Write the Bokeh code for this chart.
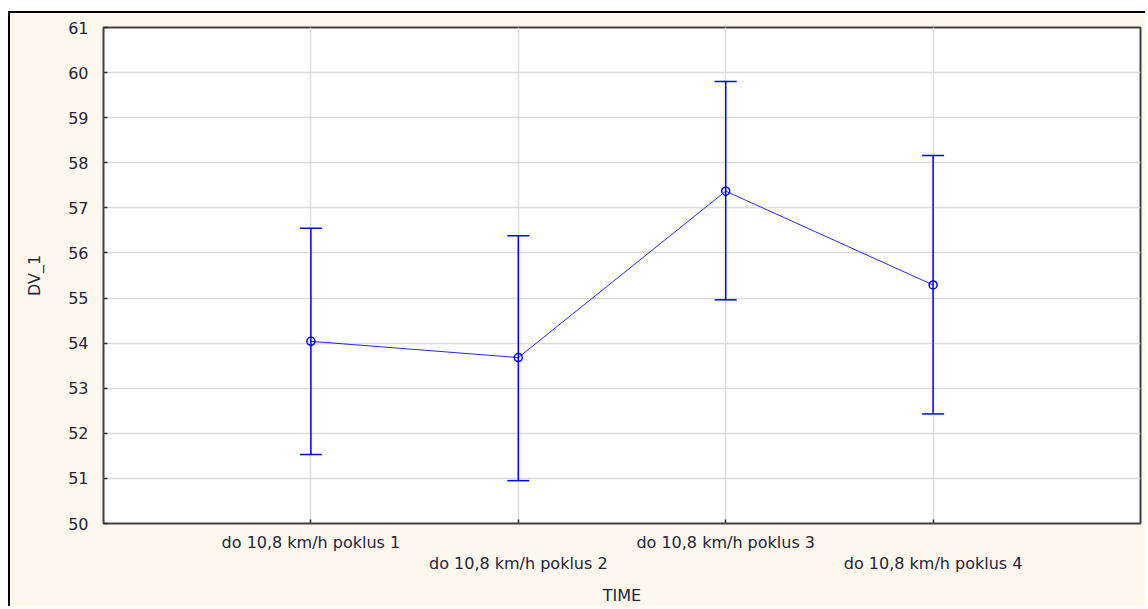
from bokeh.plotting import figure
from bokeh.models import (ColumnDataSource, FixedTicker, Whisker, TeeHead, Range1d)
from bokeh.embed import file_html
from bokeh.resources import INLINE

categories = ["do 10,8 km/h poklus 1", "do 10,8 km/h poklus 2",
              "do 10,8 km/h poklus 3", "do 10,8 km/h poklus 4"]
positions = [1, 2, 3, 4]
means = [54.04, 53.68, 57.37, 55.29]
upper = [56.55, 56.38, 59.80, 58.16]
lower = [51.53, 50.95, 54.96, 52.43]
y_ticks = list(range(50, 62))

FONT = "DejaVu Sans"
TXT = "#24243c"
BLUE = "#0000ff"

p = figure(width=1137, height=595,
           x_range=Range1d(0, 5), y_range=Range1d(50, 61),
           output_backend="svg", toolbar_location=None,
           min_border_left=93, min_border_right=7,
           min_border_top=14, min_border_bottom=84,
           background_fill_color="white", border_fill_color="#fdf8ed",
           outline_line_color="#404040", outline_line_width=2,
           styles={"border-left": "2px solid #000", "border-top": "2px solid #000",
                   "margin-top": "11px", "margin-left": "8px"})

# x axis
xa = p.xaxis[0]
xa.ticker = FixedTicker(ticks=positions)
xa.major_label_overrides = {pos: ("\n" + c if i % 2 else c)
                            for i, (pos, c) in enumerate(zip(positions, categories))}
xa.axis_label = "TIME"

# y axis
ya = p.yaxis[0]
ya.ticker = FixedTicker(ticks=y_ticks)
ya.axis_label = "DV_1"

for ax in (xa, ya):
    ax.axis_line_color = None
    ax.major_tick_in = 4
    ax.major_tick_out = 0
    ax.major_tick_line_color = "#303030"
    ax.major_tick_line_width = 1.5
    ax.minor_tick_line_color = None
    ax.major_label_text_font = FONT
    ax.major_label_text_font_size = "16px"
    ax.major_label_text_color = TXT
    ax.axis_label_text_font = FONT
    ax.axis_label_text_font_size = "16px"
    ax.axis_label_text_font_style = "normal"
    ax.axis_label_text_color = TXT

xa.major_label_text_line_height = 1.15
xa.major_label_standoff = 9
xa.axis_label_standoff = 10
ya.major_label_standoff = 15
ya.axis_label_standoff = 21

p.xgrid.grid_line_color = "#dcdcdc"
p.xgrid.grid_line_width = 1.5
p.ygrid.grid_line_color = "#dcdcdc"
p.ygrid.grid_line_width = 1.5

src = ColumnDataSource(dict(x=positions, m=means, up=upper, lo=lower))
p.line("x", "m", source=src, line_color=BLUE, line_width=1, line_alpha=0.85)
w = Whisker(source=src, base="x", upper="up", lower="lo",
            line_color=BLUE, line_width=1.5,
            upper_head=TeeHead(size=22, line_color=BLUE, line_width=1.5),
            lower_head=TeeHead(size=22, line_color=BLUE, line_width=1.5))
p.add_layout(w)
p.scatter("x", "m", source=src, marker="circle", size=8, fill_color=None,
          line_color=BLUE, line_width=1.5)

open("out.html", "w").write(file_html(p, INLINE))
